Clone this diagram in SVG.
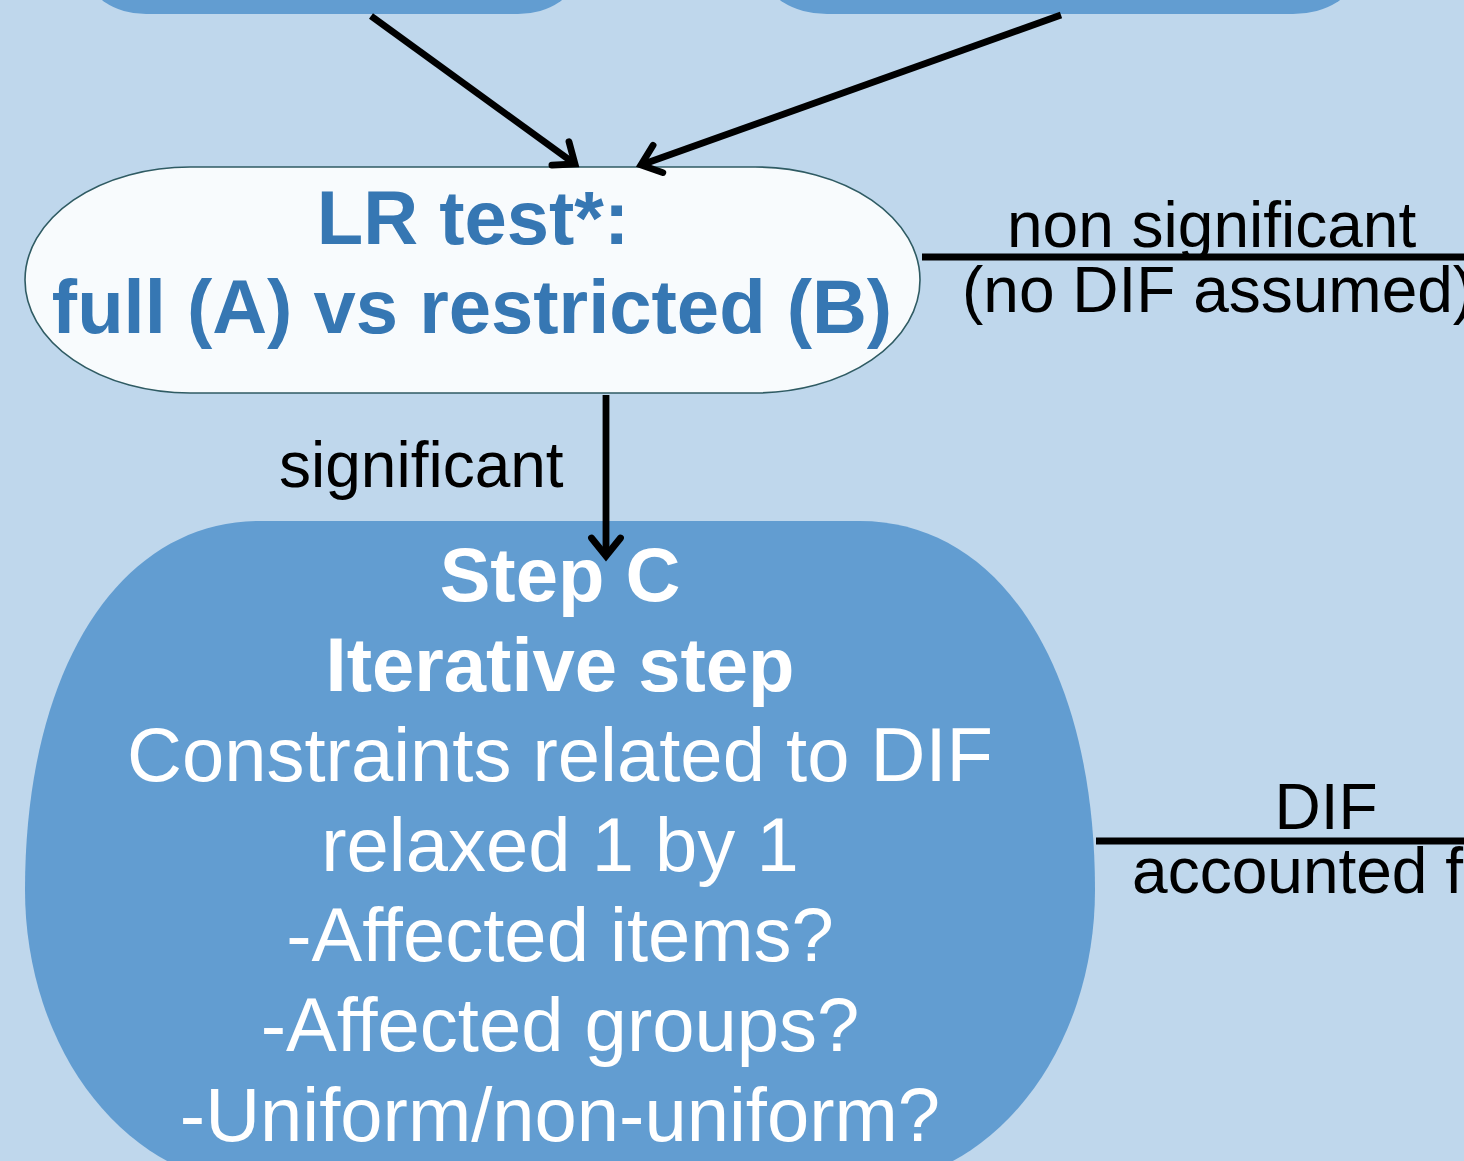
<svg xmlns="http://www.w3.org/2000/svg" width="1464" height="1161" viewBox="0 0 1464 1161">
<style>
.bg{fill:#bfd7ec}
.blue{fill:#629dd1}
.lr{fill:#f8fbfd;stroke:#2f5b63;stroke-width:1.6}
.lrt{font-family:"Liberation Sans",Arial,sans-serif;font-weight:bold;font-size:76px;fill:#3677b3;text-anchor:middle}
.ct{font-family:"Liberation Sans",Arial,sans-serif;font-size:76px;fill:#ffffff;text-anchor:middle}
.b{font-weight:bold}
.lbl{font-family:"Liberation Sans",Arial,sans-serif;font-size:64px;fill:#000000}
.edge{fill:none;stroke:#000;stroke-width:6.8}
</style>
<defs>
<marker id="ah" markerUnits="userSpaceOnUse" viewBox="-30 -24 40 48" refX="0" refY="0" markerWidth="40" markerHeight="48" orient="auto">
<path d="M -18 -14.5 L 0 0 L -18 14.5" fill="none" stroke="#000" stroke-width="6.8" stroke-linecap="round" stroke-linejoin="miter"/>
</marker>
</defs>
<rect class="bg" x="0" y="0" width="1464" height="1161"/>
<g id="node-top-left">
<rect class="blue" x="88" y="-120" width="488" height="134" rx="58" ry="40"/>
</g>
<g id="node-top-right">
<rect class="blue" x="765" y="-120" width="590" height="134" rx="62" ry="40"/>
</g>
<g id="node-lr-test">
<rect class="lr" x="25" y="167" width="895" height="226" rx="165" ry="113"/>
<text class="lrt" x="473" y="244">LR test*:</text>
<text class="lrt" x="472" y="333">full (A) vs restricted (B)</text>
</g>
<g id="node-step-c">
<path class="blue" d="M 260 521 L 860 521 C 1001 521 1095 669 1095 890 A 235 295 0 0 1 860 1185 L 260 1185 A 235 295 0 0 1 25 890 C 25 669 119 521 260 521 Z"/>
<text class="ct b" x="560" y="601">Step C</text>
<text class="ct b" x="560" y="691">Iterative step</text>
<text class="ct" x="560" y="781">Constraints related to DIF</text>
<text class="ct" x="560" y="871">relaxed 1 by 1</text>
<text class="ct" x="560" y="961">-Affected items?</text>
<text class="ct" x="560" y="1051">-Affected groups?</text>
<text class="ct" x="560" y="1141">-Uniform/non-uniform?</text>
</g>
<g id="connectors">
<line class="edge" x1="371" y1="16" x2="575" y2="164" marker-end="url(#ah)"/>
<line class="edge" x1="1061" y1="15" x2="641" y2="165" marker-end="url(#ah)"/>
<line class="edge" x1="606" y1="395" x2="606" y2="556" marker-end="url(#ah)"/>
<line class="edge" x1="922" y1="257" x2="1470" y2="257"/>
<line class="edge" x1="1096" y1="841" x2="1470" y2="841"/>
<text class="lbl" x="279" y="487">significant</text>
<text class="lbl" x="1007" y="247">non significant</text>
<text class="lbl" x="962" y="312">(no DIF assumed)</text>
<text class="lbl" x="1326" y="829" text-anchor="middle">DIF</text>
<text class="lbl" x="1326" y="893" text-anchor="middle">accounted for</text>
</g>
</svg>
